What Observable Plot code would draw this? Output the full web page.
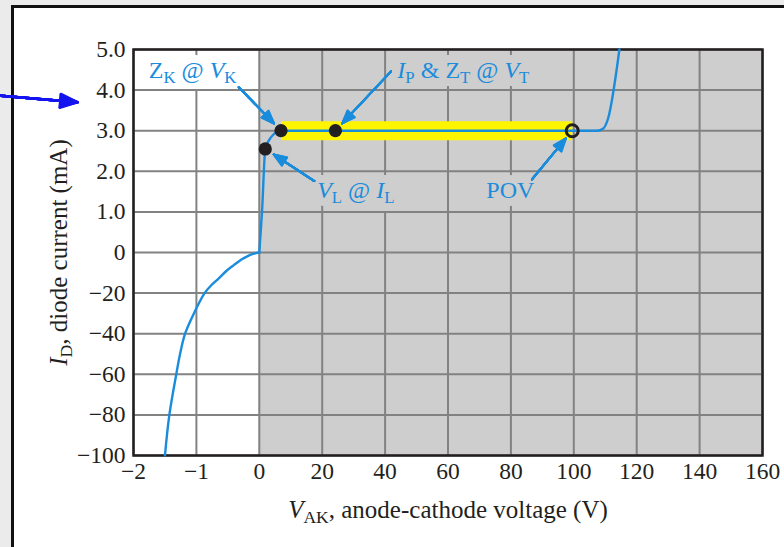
<!DOCTYPE html>
<html><head><meta charset="utf-8">
<script src="https://cdn.jsdelivr.net/npm/d3@7"></script>
<script src="https://cdn.jsdelivr.net/npm/@observablehq/plot@0.6"></script>
<style>
html,body{margin:0;padding:0;width:784px;height:547px;overflow:hidden;background:#ebebeb;}
#box{position:absolute;left:11px;top:5px;right:-10px;bottom:-10px;background:#fff;border-left:3px solid #111;border-top:3px solid #111;}
#chart{position:absolute;left:0;top:0;}
</style></head><body><div id="box"></div><div id="chart"></div>
<script>
// ---- axes ----
const xTicks = [-2, -1, 0, 20, 40, 60, 80, 100, 120, 140, 160];
const xTickLabels = ["−2", "−1", "0", "20", "40", "60", "80", "100", "120", "140", "160"];
const yTicks = [-100, -80, -60, -40, -20, 0, 1, 2, 3, 4, 5];
const yTickLabels = ["−100", "−80", "−60", "−40", "−20", "0", "1.0", "2.0", "3.0", "4.0", "5.0"];
const xLabel = "*V*_{AK}, anode-cathode voltage (V)";
const yLabel = "*I*_{D}, diode current (mA)";

// ---- characteristic curve ----
const forwardV = [-1.50, -1.43, -1.32, -1.26, -1.18, -1.04, -0.96, -0.87, -0.76, -0.64, -0.52, -0.40, -0.27, -0.20, -0.10, 0];
const forwardI = [-100, -80, -60, -50, -40, -30, -25, -20, -16, -12.6, -9, -6.1, -3.2, -2.0, -0.7, 0];
const blockingV = [0, 0.86, 1.9, 2.96, 4.55, 6.9, 24, 100, 107.4, 109.3, 110.9, 114.5];
const blockingI = [0, 1.0, 2.55, 2.75, 2.91, 3.0, 3.0, 3.0, 3.0, 3.05, 3.3, 5.0];

// ---- shaded reverse-voltage region ----
const shadeV = [0, 160];
const shadeI = [-100, 5];

// ---- key points ----
const keyNames = ["ZK", "IP", "VL", "POV"];
const keyV = [6.9, 24.2, 1.9, 99.5];
const keyI = [3.0, 3.0, 2.55, 3.0];
const keyFilled = [true, true, true, false];

// ---- operating band (Z_K to POV) ----
const bandV = [6.9, 99.5];
const bandI = [3.0, 3.0];

// ---- annotations ----
const labelText = ["Z_{K} @ *V*_{K}", "*I*_{P} & Z_{T} @ *V*_{T}", "*V*_{L} @ *I*_{L}", "POV"];
const labelV = [-1.757, 43.9, 18.4, 72.2];
const labelI = [4.31, 4.31, 1.34, 1.34];
const tailV = [-0.326, 41.9, 17.5, 86.7];
const tailI = [4.07, 4.46, 1.76, 1.80];
const targetIndex = [0, 1, 2, 3];

// external pointer arrow of the surrounding figure
const extFromV = [-4.11], extFromI = [3.86], extToV = [-2.895], extToI = [3.70];

// ---- build tables ----
const forward = forwardV.map((v, i) => ({V: v, I: forwardI[i]}));
const blocking = blockingV.map((v, i) => ({V: v, I: blockingI[i]}));
const keys = keyNames.map((n, i) => ({name: n, V: keyV[i], I: keyI[i], filled: keyFilled[i]}));
const band = bandV.map((v, i) => ({V: v, I: bandI[i]}));
const shade = [{x1: shadeV[0], x2: shadeV[1], y1: shadeI[0], y2: shadeI[1]}];
const labels = labelText.map((t, i) => ({text: t, V: labelV[i], I: labelI[i]}));
const pointers = tailV.map((v, i) => ({x1: v, y1: tailI[i], x2: keys[targetIndex[i]].V, y2: keys[targetIndex[i]].I}));
const ext = extFromV.map((v, i) => ({x1: v, y1: extFromI[i], x2: extToV[i], y2: extToI[i]}));

const blue = "#1a8cdc";
const ink = "#231f20";
const gray = "#cecece";
const gridColor = "#828282";

// filled arrowheads: a fan of arrows whose wings fill a triangle
function fanArrows(data, {L, half, sw, stroke, insetEnd = 0}) {
  const angles = [2, 5, 8, 11, 14, 17, 20, half].filter(a => a <= half);
  return angles.map(a => Plot.arrow(data, {
    x1: "x1", y1: "y1", x2: "x2", y2: "y2",
    stroke, strokeWidth: sw, insetEnd,
    headAngle: 2 * a,
    headLength: 1.5 * L / (Math.cos(a * Math.PI / 180) * sw)
  }));
}
const labelOpts = {x: "V", y: "I", text: "text", textAnchor: "start", lineAnchor: "bottom", fontSize: 24};

const plot = Plot.plot({
  width: 784, height: 547,
  marginLeft: 133, marginRight: 22, marginTop: 49, marginBottom: 92,
  style: {background: "transparent", fontFamily: "'Liberation Serif', 'Times New Roman', serif", color: ink, overflow: "visible"},
  x: {type: "linear", domain: xTicks, axis: null},
  y: {type: "linear", domain: yTicks, axis: null},
  marks: [
    Plot.rect(shade, {x1: "x1", x2: "x2", y1: "y1", y2: "y2", fill: gray}),
    Plot.gridX(xTicks, {stroke: gridColor, strokeOpacity: 1, strokeWidth: 2}),
    // knock-out backgrounds behind the labels
    Plot.text(labels.filter(d => d.V < 0), {...labelOpts, fill: "white", stroke: "white", strokeWidth: 16, strokeLinejoin: "round"}),
    Plot.text(labels.filter(d => d.V >= 0), {...labelOpts, fill: gray, stroke: gray, strokeWidth: 16, strokeLinejoin: "round"}),
    Plot.gridY(yTicks, {stroke: gridColor, strokeOpacity: 1, strokeWidth: 2}),
    Plot.frame({stroke: ink, strokeWidth: 2.5}),
    Plot.text(labels, {...labelOpts, fill: blue}),
    Plot.line(band, {x: "V", y: "I", stroke: "#fff500", strokeWidth: 19, strokeLinecap: "butt"}),
    Plot.line(forward, {x: "V", y: "I", stroke: blue, strokeWidth: 2.4, curve: "catmull-rom"}),
    Plot.line(blocking, {x: "V", y: "I", stroke: blue, strokeWidth: 2.4, curve: "monotone-x"}),
    Plot.dot(keys.filter(d => d.filled), {x: "V", y: "I", r: 6.6, fill: ink}),
    Plot.dot(keys.filter(d => !d.filled), {x: "V", y: "I", r: 6, fill: "none", stroke: ink, strokeWidth: 3}),
    ...fanArrows(pointers, {L: 13, half: 21, sw: 2, stroke: blue, insetEnd: 10}),
    ...fanArrows(ext, {L: 17, half: 22, sw: 2.6, stroke: "#1414f0"}),
    Plot.axisX(xTicks, {tickSize: 0, tickPadding: 7, fontSize: 23.5, label: null,
      tickFormat: d => xTickLabels[xTicks.indexOf(d)]}),
    Plot.axisY(yTicks, {tickSize: 0, tickPadding: 8, fontSize: 23.5, label: null,
      tickFormat: d => yTickLabels[yTicks.indexOf(d)]}),
    Plot.text([yLabel], {frameAnchor: "left", dx: -75, rotate: -90, textAnchor: "middle", lineAnchor: "middle", fontSize: 25, fill: ink}),
    Plot.text([xLabel], {frameAnchor: "bottom", dy: 62, textAnchor: "middle", lineAnchor: "bottom", fontSize: 25, fill: ink})
  ]
});

// turn *italic* and _{subscript} markup into tspans
function richify(svg) {
  const ns = "http://www.w3.org/2000/svg";
  svg.querySelectorAll("text").forEach(t => {
    const s = t.textContent;
    if (!/[*_]/.test(s)) return;
    const parts = s.match(/\*[^*]+\*|_\{[^}]+\}|[^*_]+/g);
    while (t.firstChild) t.removeChild(t.firstChild);
    let shifted = false;
    for (const p of parts) {
      const ts = document.createElementNS(ns, "tspan");
      if (p.startsWith("_{")) {
        ts.textContent = p.slice(2, -1);
        ts.setAttribute("font-size", "70%");
        ts.setAttribute("dy", "0.32em");
        shifted = true;
      } else {
        if (p.startsWith("*")) {
          ts.textContent = p.slice(1, -1);
          ts.setAttribute("font-style", "italic");
        } else ts.textContent = p;
        if (shifted) { ts.setAttribute("dy", "-0.224em"); shifted = false; }
      }
      t.appendChild(ts);
    }
  });
}
richify(plot);
document.getElementById("chart").appendChild(plot);
</script></body></html>
